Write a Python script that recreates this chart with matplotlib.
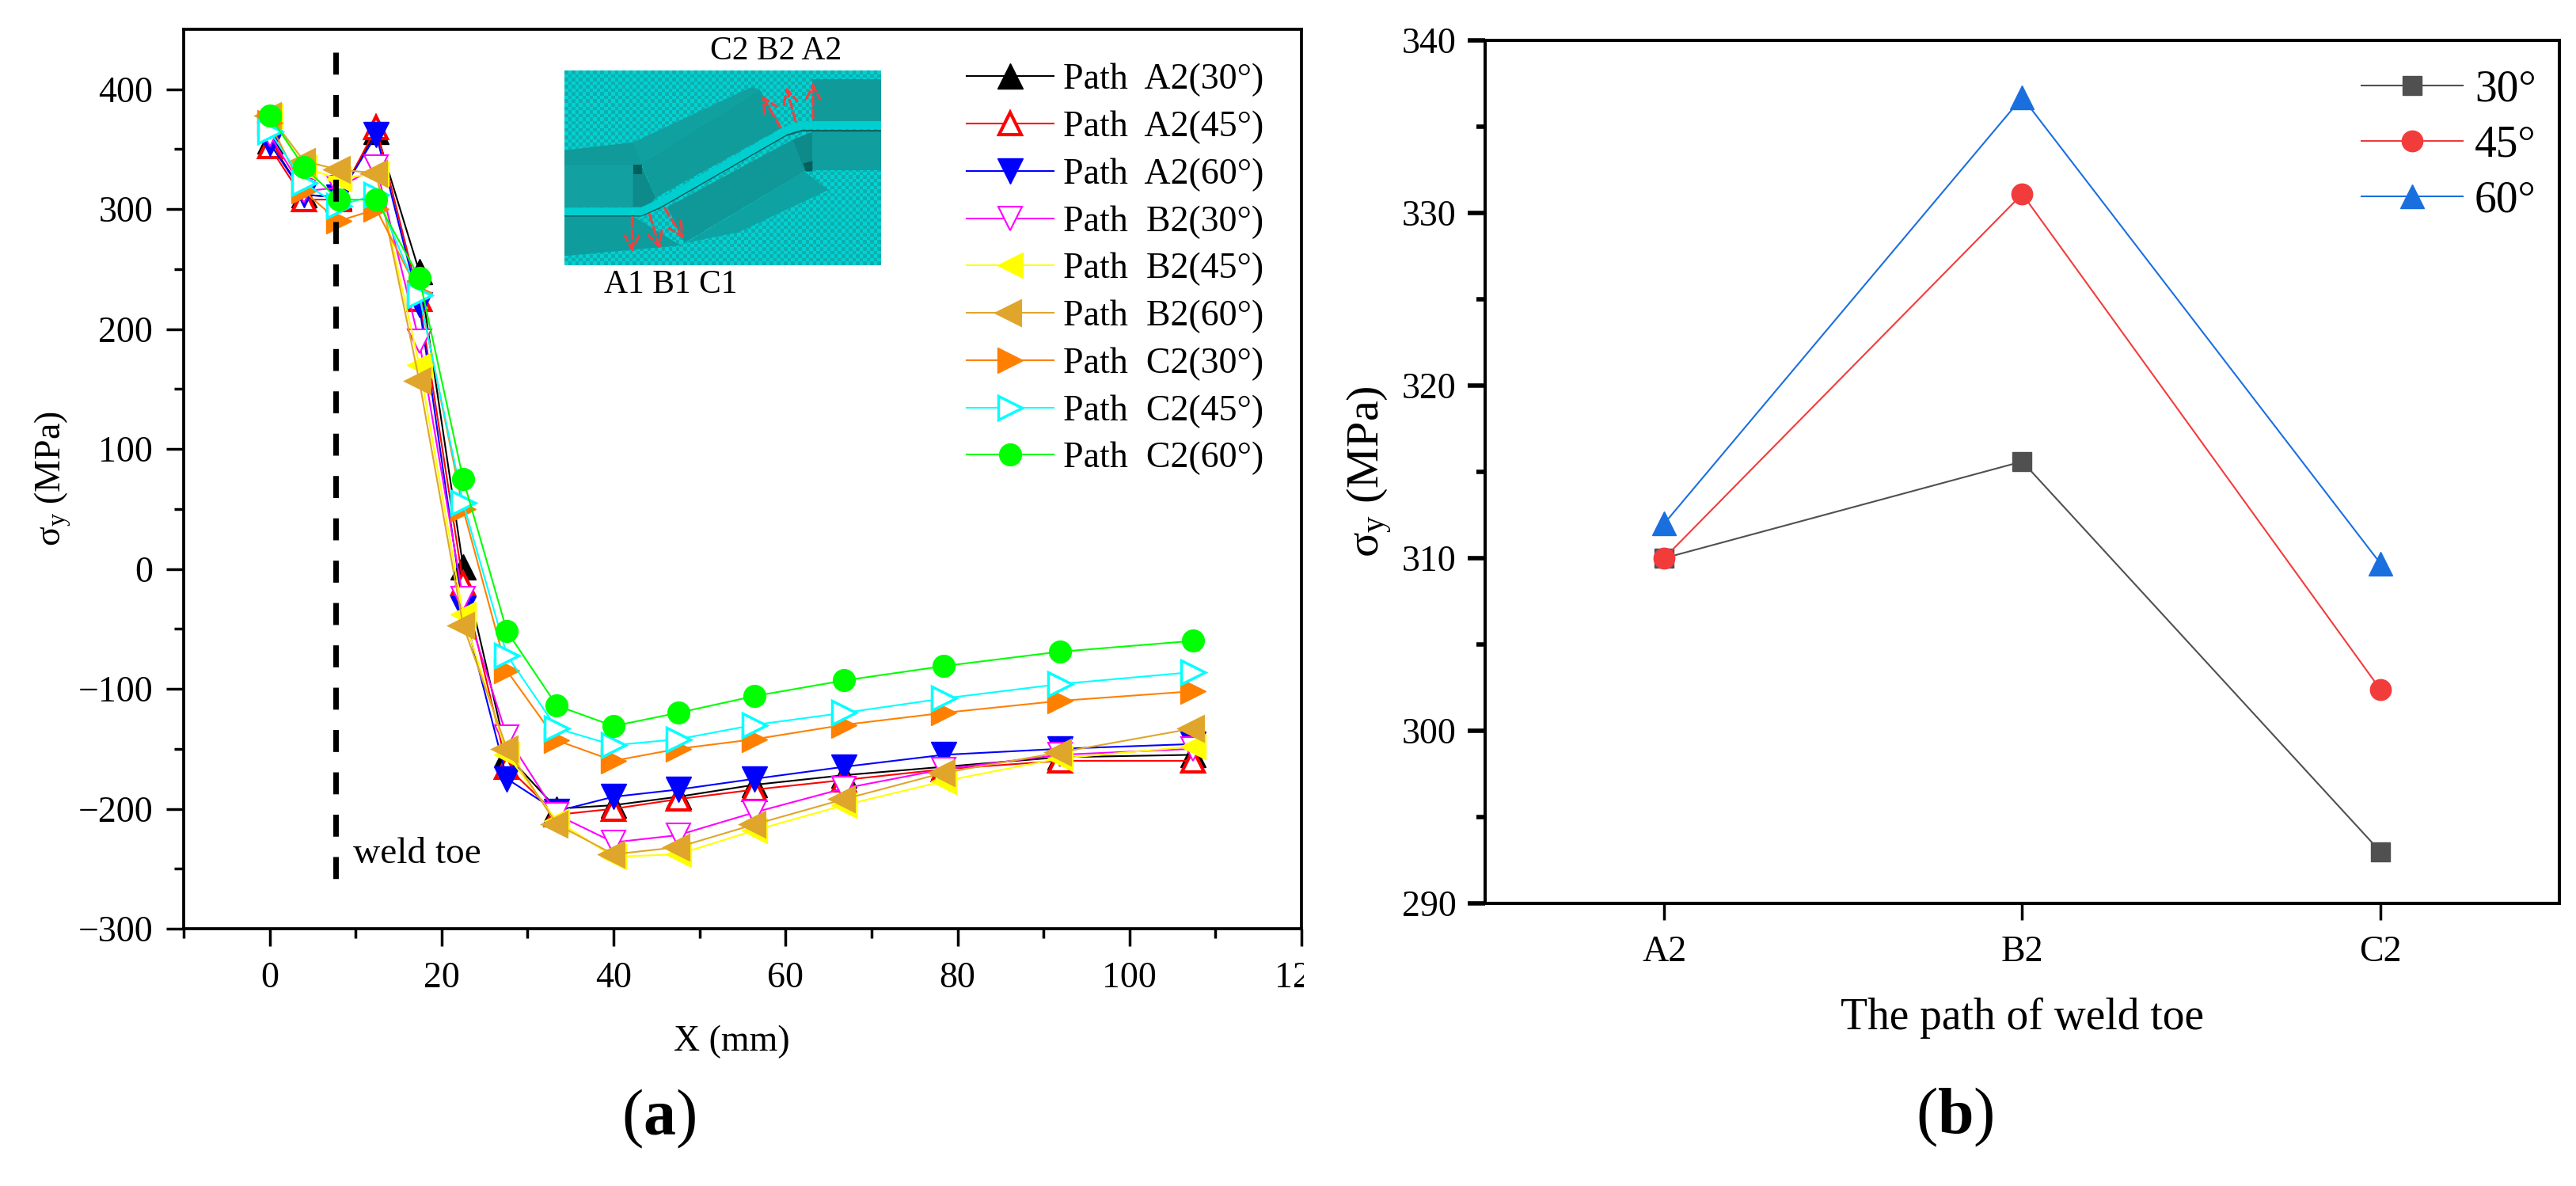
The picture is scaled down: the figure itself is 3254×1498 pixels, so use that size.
import numpy as np
import matplotlib
matplotlib.use('Agg')
import matplotlib.pyplot as plt
from matplotlib.colors import ListedColormap
from matplotlib.patches import Polygon
from matplotlib.transforms import Bbox, IdentityTransform, TransformedBbox

plt.rcParams['font.family'] = ['Liberation Serif', 'DejaVu Serif']
plt.rcParams['mathtext.fontset'] = 'custom'
plt.rcParams['mathtext.rm'] = 'Liberation Serif'
plt.rcParams['mathtext.it'] = 'Liberation Serif:italic'
plt.rcParams['mathtext.bf'] = 'Liberation Serif:bold'

W, H = 3255, 1498

# (a) distance along the path
x_mm = [0, 4, 8, 12.4, 17.4, 22.5, 27.6, 33.4, 40, 47.5, 56.4, 66.8, 78.4, 91.9, 107.4]

a2_30 = [357, 312, 310, 365, 248, 2, -155, -200, -197, -190, -180, -172, -165, -157, -155]
a2_45 = [352, 308, 308, 368, 225, -12, -165, -205, -200, -192, -184, -176, -167, -160, -160]
a2_60 = [355, 312, 310, 362, 220, -33, -175, -202, -190, -184, -175, -165, -155, -150, -146]
b2_30 = [362, 315, 318, 335, 190, -25, -140, -205, -228, -222, -203, -183, -167, -155, -150]
b2_45 = [378, 335, 325, 330, 170, -38, -155, -210, -240, -238, -218, -197, -177, -158, -148]
b2_60 = [378, 340, 333, 330, 157, -47, -150, -213, -238, -232, -213, -192, -170, -153, -133]
c2_30 = [372, 315, 290, 300, 230, 50, -85, -143, -160, -150, -142, -130, -120, -110, -102]
c2_45 = [365, 322, 303, 312, 228, 55, -72, -133, -147, -142, -130, -120, -108, -96, -86]
c2_60 = [378, 335, 308, 308, 243, 75, -52, -114, -131, -120, -106, -93, -81, -69, -60]

series_a = [a2_30, a2_45, a2_60, b2_30, b2_45, b2_60, c2_30, c2_45, c2_60]
names_a = ['Path  A2(30°)', 'Path  A2(45°)', 'Path  A2(60°)',
           'Path  B2(30°)', 'Path  B2(45°)', 'Path  B2(60°)',
           'Path  C2(30°)', 'Path  C2(45°)', 'Path  C2(60°)']
colors_a = ['black', 'red', 'blue', '#FF00FF', '#FFFF00', '#DFA62B', '#FF8000', '#00FFFF', '#00FF00']
markers_a = ['^', '^', 'v', 'v', '<', '<', '>', '>', 'o']
faces_a = [None, 'white', None, 'white', None, 'white', None, 'white', None]
edges_a = [1, 3, 1, 1.5, 1, 8, 1, 2.5, 1]
sizes_a = [23, 20, 23, 22, 23, 13, 23, 21, 20]

# (b) stress at the weld toe
paths = ['A2', 'B2', 'C2']
angle_30 = [310, 315.6, 293.0]
angle_45 = [310, 331.1, 302.4]
angle_60 = [312, 336.7, 309.7]


def px_rect(x0, y0, x1, y1):
    return [x0 / W, 1 - y1 / H, (x1 - x0) / W, (y1 - y0) / H]


fig = plt.figure(figsize=(W / 100, H / 100), dpi=100)

# left panel
ax = fig.add_axes(px_rect(232, 37, 1644, 1173))
for y, c, m, f, e, s, n in zip(series_a, colors_a, markers_a, faces_a, edges_a, sizes_a, names_a):
    ax.plot(x_mm, y, color=c, lw=1.5, marker=m, ms=s, mfc=f if f else c, mec=c, mew=e, label=n)
ax.plot([7.7, 7.7], [431, -268], color='black', lw=5, dashes=(4, 3.7), dash_capstyle='butt')
ax.text(9.7, -238, 'weld toe', fontsize=34, va='center')
ax.set_xlim(-10, 120)
ax.set_ylim(-300, 450)
ax.set_xticks([0, 20, 40, 60, 80, 100, 120])
ax.set_xticks([-10, 10, 30, 50, 70, 90, 110], minor=True)
ax.set_yticks([-300, -200, -100, 0, 100, 200, 300, 400])
ax.set_yticks([-250, -150, -50, 50, 150, 250, 350], minor=True)
ax.set_yticklabels(['−300', '−200', '−100', '0', '100', '200', '300', '400'])
ax.tick_params(which='major', length=16, width=2.5, labelsize=33, pad=12)
ax.tick_params(axis='x', which='major', pad=14)
ax.tick_params(which='minor', length=8.5, width=2.5)
for s in ax.spines.values():
    s.set_linewidth(2.7)
# the 120 is cut off in the original
clip = TransformedBbox(Bbox([[0, 0], [1647, H]]), IdentityTransform())
for lab in ax.get_xticklabels():
    lab.set_clip_box(clip)
    lab.set_clip_on(True)
ax.set_xlabel('X (mm)', fontsize=33)
ax.xaxis.set_label_coords(0.49, -0.107)
ax.set_ylabel('σ$_\\mathrm{y}$ (MPa)', fontsize=33)
ax.yaxis.set_label_coords(-0.099, 0.5)
ax.legend(loc='upper left', bbox_to_anchor=(1221 / W, 1 - 80 / H), bbox_transform=fig.transFigure,
          frameon=False, fontsize=33, handlelength=2.4, handletextpad=0.26, labelspacing=0.376,
          borderpad=0, borderaxespad=0, numpoints=1)

# mesh picture inside the left panel
ins = fig.add_axes(px_rect(713, 89, 1113, 335))
rows, cols = np.indices((54, 88))
ins.pcolormesh(np.linspace(40, 1240, 89), np.linspace(28, 765, 55), (cols + rows) % 2,
               cmap=ListedColormap(['#0FAEAE', '#00D2D2']))
ins.set_xlim(40, 1240)
ins.set_ylim(765, 28)
shade = [([(40, 330), (300, 300), (340, 385), (40, 385)], '#109A9A'),
         ([(300, 300), (750, 90), (780, 100), (330, 380)], '#11A0A0'),
         ([(40, 385), (300, 385), (300, 545), (40, 545)], '#12A0A0'),
         ([(300, 385), (330, 385), (385, 510), (355, 545), (300, 545)], '#0E8A8A'),
         ([(330, 380), (780, 100), (865, 245), (385, 510)], '#119C9C'),
         ([(430, 545), (905, 290), (950, 410), (495, 680)], '#109898'),
         ([(905, 290), (980, 260), (980, 400), (950, 410)], '#0E8A8A'),
         ([(980, 60), (1240, 60), (1240, 220), (980, 220)], '#109A9A'),
         ([(980, 260), (1240, 260), (1240, 405), (980, 405)], '#109E9E'),
         ([(40, 580), (300, 580), (480, 690), (40, 730)], '#0F9C9C'),
         ([(500, 680), (950, 410), (1040, 480), (700, 640)], '#0FA2A2'),
         ([(300, 385), (335, 385), (335, 420), (300, 420)], '#065F5F'),
         ([(945, 380), (980, 370), (980, 410), (955, 410)], '#065F5F')]
for pts, c in shade:
    ins.add_patch(Polygon(pts, closed=True, fc=c, ec='none'))
ins.plot([40, 330, 400, 880, 940, 1240], [578, 578, 548, 273, 256, 256], color='#075F5F', lw=1.5)
ins.plot([40, 330, 400, 880, 940, 1240], [562, 562, 530, 255, 235, 235], color='#00CFCF', lw=7)
arrows = [((862, 250), (785, 115)), ((918, 228), (878, 82)), ((982, 218), (982, 65)),
          ((296, 575), (296, 725)), ((360, 565), (405, 712)), ((415, 542), (497, 672))]
for a, b in arrows:
    ins.annotate('', xy=b, xytext=a, arrowprops=dict(arrowstyle='->', color='#F04040', lw=2.2,
                                                      ls='--', mutation_scale=32))
ins.set_xticks([])
ins.set_yticks([])
for s in ins.spines.values():
    s.set_visible(False)
fig.text(897 / W, 1 - 65 / H, 'C2 B2 A2', fontsize=30, va='center')
fig.text(763 / W, 1 - 360 / H, 'A1 B1 C1', fontsize=30, va='center')

# right panel
bx = fig.add_axes(px_rect(1876, 51, 3233, 1141))
xpos = np.arange(len(paths))
bx.plot(xpos, angle_30, color='#505050', lw=1.5, marker='s', ms=17, label='30°')
bx.plot(xpos, angle_45, color='#F23C3C', lw=1.5, marker='o', ms=19, label='45°')
bx.plot(xpos, angle_60, color='#1A6FDF', lw=1.5, marker='^', ms=22, label='60°')
bx.set_xlim(-0.5, 2.5)
bx.set_ylim(290, 340)
bx.set_xticks(xpos)
bx.set_xticklabels(paths)
bx.set_yticks([290, 300, 310, 320, 330, 340])
bx.set_yticks([295, 305, 315, 325, 335], minor=True)
bx.tick_params(axis='x', length=15, width=2.5, labelsize=33, pad=14)
bx.tick_params(axis='y', which='major', length=16, width=4, labelsize=33, pad=10)
bx.tick_params(axis='y', which='minor', length=8, width=4)
for s in bx.spines.values():
    s.set_linewidth(2.9)
bx.set_xlabel('The path of weld toe', fontsize=40)
bx.xaxis.set_label_coords(0.5, -0.109)
bx.set_ylabel('σ$_\\mathrm{y}$ (MPa)', fontsize=42)
bx.yaxis.set_label_coords(-0.085, 0.5)
bx.legend(loc='upper left', bbox_to_anchor=(2983 / W, 1 - 87 / H), bbox_transform=fig.transFigure,
          frameon=False, fontsize=40, handlelength=2.3, handletextpad=0.27, labelspacing=0.33,
          borderpad=0, borderaxespad=0, numpoints=1)

# panel letters
fig.text(832 / W, 1 - 1413 / H, '($\\mathbf{a}$)', fontsize=59, ha='center', va='center')
fig.text(2469 / W, 1 - 1411 / H, '($\\mathbf{b}$)', fontsize=59, ha='center', va='center')

fig.savefig('out.png', dpi=100)
